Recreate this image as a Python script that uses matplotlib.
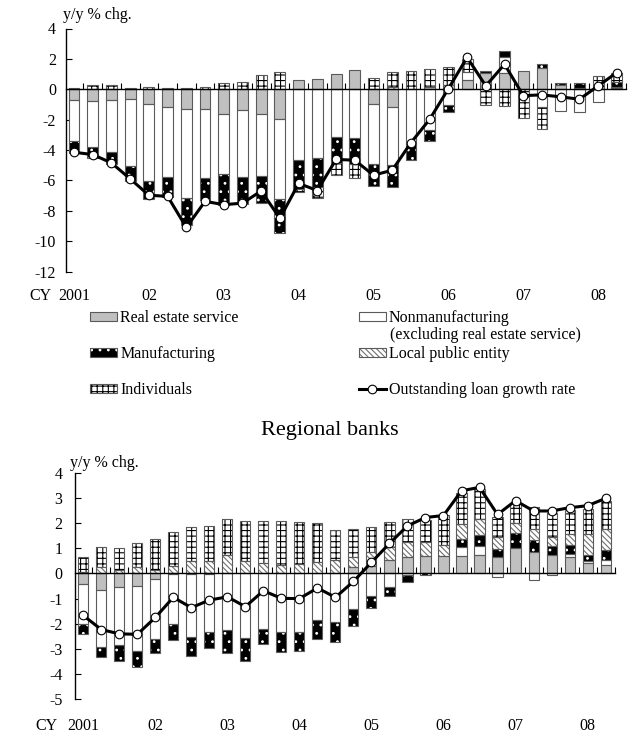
import numpy as np
import matplotlib
matplotlib.use('Agg')
import matplotlib.pyplot as plt
from matplotlib.patches import Patch
from matplotlib.lines import Line2D
from matplotlib.transforms import blended_transform_factory

plt.rcParams['font.family'] = ['Liberation Serif', 'DejaVu Serif']
plt.rcParams['hatch.linewidth'] = 0.8
plt.rcParams['axes.unicode_minus'] = False

# ---------------- data ----------------
quarters = [f"{y}Q{q}" for y in range(2001, 2009) for q in range(1, 5)][:30]
year_labels = ['2001', '02', '03', '04', '05', '06', '07', '08']

series_names = ['Real estate service',
                'Nonmanufacturing',
                'Manufacturing',
                'Local public entity',
                'Individuals']

# Major banks (top panel)
major_real_estate = [-0.72, -0.75, -0.70, -0.64, -1.00, -1.17, -1.32, -1.32, -1.63, -1.39,
                     -1.61, -1.96, 0.62, 0.70, 0.99, 1.28, -1.00, -1.20, 0.00, 0.15,
                     0.30, 0.62, 1.10, 1.10, 1.17, 1.40, 0.25, 0.10, 0.00, 0.05]
major_nonmfg = [-2.70, -3.05, -3.40, -4.40, -5.05, -4.63, -5.82, -4.50, -3.97, -4.42,
                -4.10, -5.24, -4.67, -4.50, -3.17, -3.20, -3.90, -3.80, -3.60, -2.70,
                -1.03, 0.50, 0.00, 1.00, 0.00, -1.20, -1.40, -1.52, -0.86, 0.10]
major_mfg = [-0.75, -0.75, -0.80, -1.00, -1.20, -1.30, -1.80, -1.45, -2.00, -1.77,
             -1.80, -2.27, -1.90, -1.95, -1.70, -1.75, -1.50, -1.45, -1.05, -0.70,
             -0.50, 0.00, 0.07, 0.45, 0.00, 0.25, 0.17, 0.32, 0.00, 0.35]
major_local = [0.00, 0.00, 0.00, 0.00, 0.00, 0.00, 0.00, 0.00, 0.00, 0.00,
               0.00, 0.00, 0.00, 0.00, 0.00, 0.00, 0.00, 0.15, 0.00, 0.00,
               0.00, 0.00, 0.00, 0.00, 0.00, 0.00, 0.00, 0.00, 0.00, 0.00]
major_indiv = [0.05, 0.28, 0.25, 0.05, 0.15, 0.10, 0.10, 0.15, 0.42, 0.45,
               0.95, 1.15, -0.20, -0.70, -0.75, -0.90, 0.73, 1.00, 1.17, 1.20,
               1.15, 0.90, -1.03, -1.10, -1.87, -1.42, 0.00, 0.00, 0.84, 0.55]
major_growth = [-4.15, -4.30, -4.85, -5.90, -6.98, -7.05, -9.10, -7.38, -7.60, -7.50,
                -6.70, -8.50, -6.20, -6.67, -4.62, -4.67, -5.66, -5.33, -3.52, -1.98,
                0.03, 2.10, 0.22, 1.65, -0.42, -0.37, -0.50, -0.66, 0.22, 1.10]

# Regional banks (bottom panel)
reg_real_estate = [-0.44, -0.64, -0.53, -0.50, -0.23, -0.02, -0.03, -0.03, 0.00, 0.00,
                   0.00, 0.00, 0.00, 0.00, 0.00, 0.25, 0.30, 0.53, 0.66, 0.69,
                   0.69, 0.69, 0.73, 0.66, 1.00, 0.86, 0.73, 0.66, 0.42, 0.33]
reg_nonmfg = [-1.55, -2.30, -2.32, -2.57, -2.38, -1.97, -2.49, -2.31, -2.25, -2.58,
              -2.19, -2.34, -2.34, -1.87, -1.93, -1.43, -0.90, -0.53, -0.07, 0.00,
              0.00, 0.37, 0.36, -0.16, 0.00, -0.26, -0.05, 0.10, 0.08, 0.22]
reg_mfg = [-0.40, -0.37, -0.62, -0.64, -0.54, -0.66, -0.75, -0.61, -0.90, -0.89,
           -0.63, -0.77, -0.73, -0.73, -0.79, -0.66, -0.49, -0.36, -0.26, -0.07,
           0.00, 0.29, 0.44, 0.29, 0.60, 0.46, 0.36, 0.36, 0.23, 0.37]
reg_local = [0.05, 0.24, 0.15, 0.25, 0.15, 0.30, 0.50, 0.48, 0.75, 0.50,
             0.40, 0.35, 0.38, 0.45, 0.53, 0.40, 0.57, 0.50, 0.60, 0.57,
             0.44, 0.61, 0.62, 0.50, 0.40, 0.46, 0.37, 0.46, 0.83, 0.86]
reg_indiv = [0.60, 0.79, 0.85, 0.97, 1.20, 1.34, 1.33, 1.40, 1.42, 1.57,
             1.70, 1.72, 1.65, 1.54, 1.19, 1.10, 0.97, 1.00, 0.89, 0.86,
             1.19, 1.22, 1.19, 0.80, 0.80, 0.86, 0.93, 0.93, 0.98, 1.09]
reg_growth = [-1.67, -2.23, -2.40, -2.42, -1.75, -0.95, -1.36, -1.06, -0.93, -1.32,
              -0.69, -0.99, -1.00, -0.58, -0.95, -0.32, 0.44, 1.19, 1.89, 2.22,
              2.30, 3.28, 3.42, 2.34, 2.89, 2.48, 2.48, 2.61, 2.69, 2.98]

# ---------------- styles ----------------
OUTLINE = '#5a5a5a'
styles = [
    dict(fc='#c0c0c0', hc='#c0c0c0', hatch=None),
    dict(fc='white', hc='white', hatch=None),
    dict(fc='black', hc='white', hatch='..'),
    dict(fc='white', hc='#707070', hatch='\\\\\\\\\\\\'),
    dict(fc='white', hc='black', hatch='+++'),
]


def draw_panel(ax, series, growth, width):
    x = np.arange(len(quarters))
    pos_base = np.zeros(len(x))
    neg_base = np.zeros(len(x))
    for vals, st in zip(series, styles):
        v = np.asarray(vals, dtype=float)
        bottoms = np.where(v > 0, pos_base, neg_base)
        m = v != 0
        ax.bar(x[m], v[m], width, bottom=bottoms[m], facecolor=st['fc'],
               edgecolor=st['hc'], hatch=st['hatch'], linewidth=0, zorder=2)
        ax.bar(x[m], v[m], width, bottom=bottoms[m], fill=False,
               edgecolor=OUTLINE, linewidth=0.8, zorder=3)
        pos_base += np.where(v > 0, v, 0)
        neg_base += np.where(v < 0, v, 0)
    ax.plot(x, growth, '-o', color='black', lw=2.2, ms=6.2, mfc='white',
            mec='black', mew=0.8, zorder=5)

    for s in ('top', 'right'):
        ax.spines[s].set_visible(False)
    ax.spines['bottom'].set_position(('data', 0))
    ax.spines['bottom'].set_zorder(4)
    ax.spines['bottom'].set_linewidth(1.0)
    ax.spines['left'].set_linewidth(1.0)
    ax.set_xticks(x + 0.5)
    ax.tick_params(axis='x', direction='in', length=4, width=0.8,
                   labelbottom=False)
    ax.tick_params(axis='y', direction='in', length=4, width=0.8,
                   labelsize=11.5, pad=7)


def year_axis(ax, yoff, cy_x):
    tr = blended_transform_factory(ax.transData, ax.transAxes)
    for i, lab in zip(range(0, len(quarters), 4), year_labels):
        ax.text(i, yoff, lab, transform=tr, ha='center', va='center',
                fontsize=11.5, clip_on=False)
    ax.text(cy_x, yoff, 'CY', transform=tr, ha='center', va='center',
            fontsize=11.5, clip_on=False)


W, H = 633, 735
fig = plt.figure(figsize=(W / 100, H / 100), dpi=100)

# top panel
ax1 = fig.add_axes([65.6 / W, 1 - 271.5 / H, (626.2 - 65.6) / W, 243 / H])
draw_panel(ax1, [major_real_estate, major_nonmfg, major_mfg, major_local, major_indiv],
           major_growth, 0.58)
ax1.set_xlim(-0.45, 29.5)
ax1.set_ylim(-12, 4)
ax1.set_yticks(np.arange(-12, 5, 2))
year_axis(ax1, -0.1, -1.8)
fig.text(63 / W, 1 - 15 / H, 'y/y % chg.', ha='left', va='center', fontsize=11.5)

# bottom panel
ax2 = fig.add_axes([75 / W, 1 - 699.3 / H, (614.6 - 75) / W, 226.6 / H])
draw_panel(ax2, [reg_real_estate, reg_nonmfg, reg_mfg, reg_local, reg_indiv],
           reg_growth, 0.56)
ax2.set_xlim(-0.46, 29.5)
ax2.set_ylim(-5, 4)
ax2.set_yticks(np.arange(-5, 5, 1))
ax2.tick_params(axis='y', pad=9)
year_axis(ax2, -0.12, -2.04)
fig.text(70 / W, 1 - 463 / H, 'y/y % chg.', ha='left', va='center', fontsize=11.5)

fig.text(330 / W, 1 - 430 / H, 'Regional banks', ha='center', va='center', fontsize=16)

# legend
handles = []
for st in styles:
    handles.append(Patch(facecolor=st['fc'], edgecolor=st['hc'], hatch=st['hatch'],
                         linewidth=0))
outline_handles = [Patch(fill=False, edgecolor=OUTLINE, linewidth=0.8) for _ in styles]
line_handle = Line2D([], [], color='black', lw=2.2, marker='o', ms=6.2, mfc='white',
                     mec='black', mew=0.8)
leg_handles = [(handles[0], outline_handles[0]), (handles[2], outline_handles[2]),
               (handles[4], outline_handles[4]), (handles[1], outline_handles[1]),
               (handles[3], outline_handles[3]), line_handle]
leg_labels = [series_names[0], series_names[2], series_names[4],
              series_names[1], series_names[3], 'Outstanding loan growth rate']
fig.legend(leg_handles, leg_labels, ncol=2, loc='upper left',
           bbox_to_anchor=(90 / W, 1 - 310 / H), frameon=False, fontsize=11.5,
           handlelength=1.7, handleheight=0.45, handletextpad=0.2,
           columnspacing=7.5, labelspacing=1.25, borderpad=0, borderaxespad=0)
fig.text(390 / W, 1 - 335 / H, '(excluding real estate service)', ha='left',
         va='center', fontsize=11.5)

fig.savefig('out.png', dpi=100)
